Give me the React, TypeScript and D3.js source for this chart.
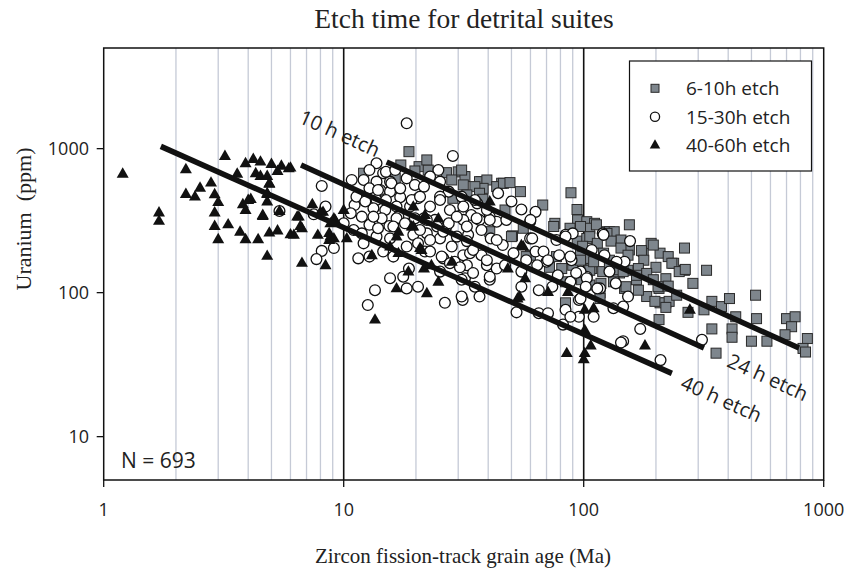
import React from 'react';
import * as d3 from 'd3';

const TITLE = 'Etch time for detrital suites';
const X_LABEL = 'Zircon fission-track grain age (Ma)';
const Y_LABEL = 'Uranium  (ppm)';
const N_LABEL = 'N = 693';
const X_TICKS = [1, 10, 100, 1000];
const Y_TICKS = [10, 100, 1000];
const X_MAJOR = [10, 100];
const X_MINOR = [2, 3, 4, 5, 6, 7, 8, 9, 20, 30, 40, 50, 60, 70, 80, 90, 200, 300, 400, 500, 600, 700, 800, 900];
const SERIES_NAMES = ['6-10h etch', '15-30h etch', '40-60h etch'];

// [age (Ma), U (ppm)]
const SQUARES: [number, number][] = [
  [18.7, 953], [17.3, 770], [12.1, 675], [20.6, 750], [22.5, 710], [19.8, 700], [26.8, 681], [30, 690], [32, 640],
  [28.2, 606], [31.5, 560], [28.5, 452], [16.4, 622], [22.2, 835], [37.5, 590], [45.5, 575], [50.5, 248], [60, 182],
  [31, 710], [36.8, 590], [39.5, 606], [38.1, 530], [35.2, 545], [43.4, 545], [46.3, 575], [49.3, 581], [54.5, 503],
  [36.8, 490], [32.6, 477], [38, 445], [47, 375], [67.5, 406], [88.5, 494], [93.8, 378], [75.8, 303], [94.3, 320],
  [103, 311], [111, 303], [87.7, 280], [56, 280],
  [50, 245], [40.6, 265], [57.6, 178], [72, 150], [84, 85], [94, 228], [103, 238], [101, 173], [90, 155], [81, 147],
  [75, 288], [106, 280], [77, 178], [84, 119], [106, 113], [97, 193], [108, 147],
  [155, 296], [121, 265], [128, 265], [134, 265], [143, 232], [155, 198], [177, 193], [191, 220], [208, 188],
  [225, 178], [263, 204], [325, 143], [263, 143], [237, 160], [285, 116], [206, 107], [220, 85], [208, 85], [227, 87],
  [272, 73], [342, 87], [375, 80], [405, 91], [520, 96], [430, 68], [525, 66], [342, 56], [415, 56], [415, 49],
  [500, 46], [580, 46], [356, 38], [700, 66], [760, 68], [735, 58], [690, 51], [855, 48], [820, 41], [840, 38.7],
  [97, 288], [106, 245], [99, 210], [114, 220], [121, 188], [97, 168], [128, 168], [106, 143], [141, 137], [98, 123],
  [118, 116], [153, 143], [134, 123], [117, 100], [148, 107], [166, 123], [183, 94],
  [195, 214], [174, 196], [178, 168], [233, 160], [200, 150], [250, 140], [265, 145], [220, 125], [169, 147],
  [183, 136], [195, 123], [204, 110], [225, 111], [244, 96], [198, 87], [220, 79], [317, 76], [206, 65], [117, 91],
  [113, 296], [125, 258], [130, 228], [143, 204], [153, 182], [110, 164], [120, 140], [133, 119], [150, 110],
  [169, 104], [166, 132], [146, 140], [128, 150],
];

const CIRCLES: [number, number][] = [
  [5.4, 369], [8.1, 551], [8.4, 396], [7.5, 350], [10, 303], [9.1, 204], [8.1, 195], [7.7, 171],
  [18.3, 1500], [28.5, 890], [13.7, 792], [12.8, 710], [14.6, 675], [13.7, 590], [12.1, 606], [10.8, 606],
  [15.6, 590], [18.3, 622], [19.8, 560], [21.6, 545], [24.8, 710], [25.2, 590], [22.9, 640], [14.2, 516],
  [15.6, 503], [12.4, 445], [13.7, 440], [17.2, 460], [20.4, 452], [18.9, 396], [16.6, 396], [14.9, 375],
  [13.3, 385], [11.1, 406], [14.4, 328], [16.9, 337], [18.9, 303], [21.6, 328], [24.0, 320], [26.8, 288],
  [27.7, 375], [31, 346], [31, 464], [27.4, 503], [25.2, 464], [12.8, 296], [15.5, 290],
  [44, 490], [55, 378], [63, 364], [59.8, 311], [34, 346], [40.6, 337], [31.5, 396], [31.5, 320], [36.8, 320],
  [43.4, 311], [47.6, 320],
  [11.5, 173], [12.8, 178], [15.6, 126], [17.7, 129], [18.3, 107], [20.4, 110], [13.5, 104], [12.6, 82],
  [26.4, 85], [31.3, 89], [18.7, 147], [12.1, 220], [11, 272], [15.6, 238], [22.2, 258], [25.2, 238], [21.8, 193],
  [26, 173], [29, 164], [31.5, 182], [25.2, 140],
  [31, 94], [36.8, 94], [52.5, 73], [65, 72], [71, 72], [84, 76], [82, 60], [65, 104], [55, 110], [95.5, 68],
  [40.6, 123], [35.2, 110], [32, 126], [32.6, 155], [39.5, 155], [43.4, 147], [33.6, 188], [37.5, 182], [51, 188],
  [63, 193], [70, 164], [64, 155], [79, 182], [89, 168], [103, 129], [95.5, 89], [41, 238], [59.8, 238], [33, 252],
  [46, 214], [77, 232], [84, 252], [108, 198], [78, 132], [88, 119], [97, 140],
  [97, 91], [110, 68], [133, 78], [146, 46], [172, 56], [209, 34], [311, 47], [88, 68],
  [120, 258], [156, 228], [148, 164], [128, 140], [136, 116], [153, 94], [117, 107], [146, 80], [90, 258],
  [103, 126], [114, 107], [137, 164], [122, 182], [121, 252], [143, 45],
  [11.9, 258], [13.7, 245], [19.5, 252], [14.6, 193], [16.1, 178], [18.3, 209], [22.9, 193], [25.6, 178],
  [27.7, 160], [30.5, 150], [34.6, 198], [39.5, 168], [40.6, 129], [34.6, 137], [31, 123], [37.5, 272], [43.4, 232],
  [55, 140], [57.6, 168], [61, 238], [68, 193], [71, 168], [74, 110], [84, 245], [88, 178], [93, 137], [102, 110],
  [47, 155], [60, 320], [50, 430], [36, 417], [40.6, 320],
  [15, 690], [16.4, 710], [12.8, 530], [13.9, 516], [15.8, 575], [17.2, 530], [11.3, 464], [12.3, 430], [15, 440],
  [19.2, 440], [20.8, 464], [22.9, 396], [25.2, 440], [35.2, 440], [39.5, 375], [10.7, 356], [11.9, 337],
  [13.3, 337], [16.6, 328], [18, 303], [19.8, 328], [22.2, 320], [24.5, 288], [27.4, 303], [29.6, 337], [32.6, 288],
  [35.8, 328], [16.1, 288], [13.9, 280], [20.8, 272], [26, 265], [29.6, 245], [32.6, 228], [22.9, 232], [20.4, 220],
  [28.2, 209],
];

const TRIANGLES: [number, number][] = [
  [1.2, 670], [1.7, 360], [1.7, 315], [2.2, 720], [3.2, 890], [2.2, 484], [2.4, 464], [2.52, 535], [2.8, 581],
  [2.9, 482], [3.0, 425], [2.9, 360], [2.9, 290], [3.0, 235], [3.3, 298], [3.6, 670], [3.9, 792], [4.2, 848],
  [4.5, 812], [5.0, 783], [5.5, 760], [5.3, 700], [6.0, 738], [4.3, 675], [4.5, 646], [4.8, 646], [4.9, 569],
  [3.8, 411], [3.9, 375], [4.1, 447], [4.6, 346], [4.8, 484], [4.8, 430], [3.7, 265], [3.9, 235], [4.4, 235],
  [4.9, 261], [5.3, 270], [6.0, 254], [4.8, 180], [6.5, 337], [6.6, 290], [6.7, 161], [7.4, 411], [8.2, 364],
  [8.4, 155], [8.7, 259], [8.7, 232], [9.1, 311], [10, 375],
  [5.9, 730], [4.9, 575], [4.8, 490], [4.0, 440], [4.6, 340], [6.4, 337], [6.7, 280], [8.0, 364], [8.8, 303],
  [9.2, 320], [8.8, 245], [6.2, 252], [7.8, 252], [10.3, 238], [5.4, 369],
  [9.1, 238], [13.1, 182], [15.6, 209], [16.9, 188], [18.6, 140], [21.6, 147], [16.6, 107], [22.2, 99],
  [24.8, 119], [28.2, 164], [13.5, 65], [20.8, 204], [23.2, 155], [16.9, 265], [19.2, 288], [9.1, 328],
  [16.6, 245], [19.5, 396], [21.8, 346], [24.8, 328], [19.5, 288], [21.1, 198], [40.6, 430], [53, 91], [71, 101],
  [85, 38], [101, 55], [101, 38], [56, 209],
  [48.3, 147], [57, 126], [54, 94], [86, 101], [55, 214], [101, 76],
  [100, 34.5], [107, 43], [110, 78], [180, 43], [277, 76],
];

const FIT_LABELS = ['10 h etch', '24 h etch', '40 h etch'];
const FIT_START: [number, number][] = [[15.1, 809], [6.64, 770], [1.73, 1037]];
const FIT_END: [number, number][] = [[789, 41.3], [317, 41.3], [233, 27.5]];
const FIT_LABEL_AT: [number, number][] = [[9.65, 1285], [586, 26], [375, 18.4]];

const W = 852;
const H = 575;
const SANS = '"Open Sans", "DejaVu Sans", sans-serif';
const SERIF = '"Liberation Serif", "Times New Roman", serif';
const SQ_FILL = '#7e868d';

function tri(cx: number, cy: number, s: number) {
  const h = s * 0.866;
  return `M${cx},${cy - h * 0.62}L${cx + s / 2},${cy + h * 0.38}L${cx - s / 2},${cy + h * 0.38}Z`;
}

export default function App() {
  const x = d3.scaleLog().domain([1, 1000]).range([103.7, 823.7]);
  const y = d3.scaleLog().domain([5, 5000]).range([480, 48]);
  const [x0, x1] = x.range();
  const [yb, yt] = y.range();
  const fmt = d3.format('d');

  return (
    <svg width={W} height={H} style={{ position: 'absolute', left: 0, top: 0, background: '#fff' }}>
      <rect x={0} y={0} width={W} height={H} fill="#fff" />
      <text x={464} y={28} textAnchor="middle" fontFamily={SERIF} fontSize={27.5} fill="#222">{TITLE}</text>

      {X_MINOR.map((v) => (
        <line key={'mn' + v} x1={x(v)} x2={x(v)} y1={yt} y2={yb} stroke="#c5cad6" strokeWidth={1.3} />
      ))}
      {X_MAJOR.map((v) => (
        <line key={'mj' + v} x1={x(v)} x2={x(v)} y1={yt} y2={yb} stroke="#111" strokeWidth={1.6} />
      ))}

      <rect x={x0} y={yt} width={x1 - x0} height={yb - yt} fill="none" stroke="#111" strokeWidth={1.5} />

      {X_TICKS.map((v) => (
        <g key={'xt' + v}>
          <line x1={x(v)} x2={x(v)} y1={yb} y2={yb + 7} stroke="#111" strokeWidth={1.3} />
          <text x={x(v)} y={516} textAnchor="middle" fontFamily={SANS} fontSize={18} fill="#222">{fmt(v)}</text>
        </g>
      ))}
      {Y_TICKS.map((v) => (
        <g key={'yt' + v}>
          <line x1={x0 - 7} x2={x0} y1={y(v)} y2={y(v)} stroke="#111" strokeWidth={1.3} />
          <text x={89} y={y(v) + 6.5} textAnchor="end" fontFamily={SANS} fontSize={18} fill="#222">{fmt(v)}</text>
        </g>
      ))}

      <text x={463} y={563} textAnchor="middle" fontFamily={SERIF} fontSize={21} fill="#222">{X_LABEL}</text>
      <text transform={`translate(31,219) rotate(-90)`} textAnchor="middle" fontFamily={SERIF} fontSize={22} fill="#222" style={{ whiteSpace: 'pre' }}>{Y_LABEL}</text>

      <text x={121} y={468} fontFamily={SANS} fontSize={21} fill="#222">{N_LABEL}</text>

      {SQUARES.map(([a, u], i) => (
        <rect key={'s' + i} x={x(a) - 5} y={y(u) - 5} width={10} height={10} fill={SQ_FILL} stroke="#2a2a2a" strokeWidth={1} />
      ))}
      {CIRCLES.map(([a, u], i) => (
        <circle key={'c' + i} cx={x(a)} cy={y(u)} r={5.4} fill="#fff" stroke="#111" strokeWidth={1.3} />
      ))}
      {TRIANGLES.map(([a, u], i) => (
        <path key={'t' + i} d={tri(x(a), y(u), 12)} fill="#111" />
      ))}

      {FIT_START.map((s, i) => {
        const e = FIT_END[i];
        const px1 = x(s[0]), py1 = y(s[1]), px2 = x(e[0]), py2 = y(e[1]);
        const ang = (Math.atan2(py2 - py1, px2 - px1) * 180) / Math.PI;
        const [la, lu] = FIT_LABEL_AT[i];
        return (
          <g key={'f' + i}>
            <line x1={px1} y1={py1} x2={px2} y2={py2} stroke="#111" strokeWidth={5.5} />
            <text transform={`translate(${x(la)},${y(lu)}) rotate(${ang})`} textAnchor="middle" dominantBaseline="central"
              fontFamily={SANS} fontSize={20} fill="#222">{FIT_LABELS[i]}</text>
          </g>
        );
      })}

      <rect x={629.5} y={61} width={182} height={110} fill="#fff" stroke="#111" strokeWidth={1.2} />
      <rect x={655 - 4} y={88.3 - 4} width={8} height={8} fill={SQ_FILL} stroke="#2a2a2a" strokeWidth={1} />
      <circle cx={655} cy={116.7} r={4.6} fill="#fff" stroke="#111" strokeWidth={1.3} />
      <path d={tri(655, 145, 10.5)} fill="#111" />
      {SERIES_NAMES.map((n, i) => (
        <text key={'l' + i} x={686} y={[88.3, 116.7, 145][i] + 6.8} fontFamily={SANS} fontSize={19} fill="#222">{n}</text>
      ))}
    </svg>
  );
}
